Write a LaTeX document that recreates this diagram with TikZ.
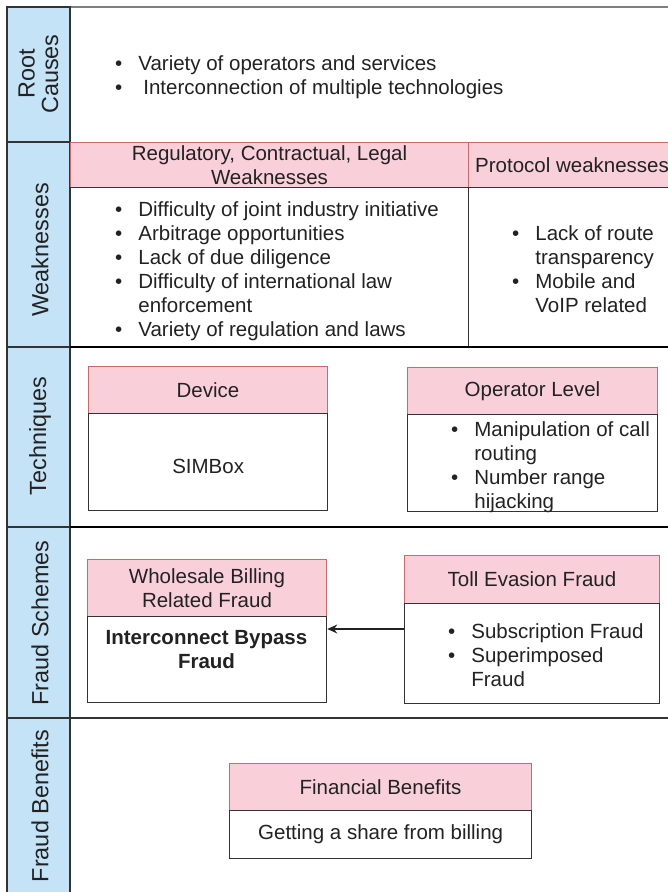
\documentclass[tikz,border=0pt]{standalone}
\usepackage{fontspec}
\setmainfont{Liberation Sans}
\usetikzlibrary{arrows.meta}

\definecolor{laneblue}{HTML}{C5E3F6}
\definecolor{headpink}{HTML}{F9D0DA}
\definecolor{headrim}{HTML}{C96A6A}
\definecolor{ink}{HTML}{222222}
\definecolor{rim}{HTML}{333333}
\definecolor{topline}{HTML}{7F7F7F}

\newcommand{\bodyfont}{\fontsize{20.5}{24}\selectfont}
\newcommand{\lanefont}{\fontsize{23.4}{23.5}\selectfont}
\newcommand{\bul}{\textbullet}
\newenvironment{bullets}{\begin{tabular}[t]{@{}l@{\hspace{16pt}}l@{}}}{\end{tabular}}

\begin{document}
\begin{tikzpicture}[x=1pt,y=-1pt,
  lane/.style={draw=rim, fill=laneblue, line width=1.2pt},
  head/.style={draw=headrim, fill=headpink, line width=1pt, inner sep=0pt,
    anchor=north west, font=\bodyfont, text=ink, align=center},
  body/.style={draw=rim, fill=white, line width=1.3pt, inner sep=0pt,
    anchor=north west, font=\bodyfont, text=ink, align=center},
  lbl/.style={font=\lanefont, text=ink, inner sep=0pt, align=center, rotate=90},
  lst/.style={font=\bodyfont, text=ink, inner sep=0pt, anchor=base west},
  heavy/.style={draw=black, line width=2.4pt},
  light/.style={draw=rim, line width=1.5pt},
]
\useasboundingbox (0,0) rectangle (668,892);
\clip (0,0) rectangle (668,892);
\fill[white] (0,0) rectangle (668,892);

% outer top edge
\draw[topline, line width=2pt] (7,7) -- (690,7);

% swimlane headers
\draw[lane] (7,7) rectangle (70,142);
\draw[lane] (7,142) rectangle (70,347);
\draw[lane] (7,347) rectangle (70,527);
\draw[lane] (7,527) rectangle (70,718);
\draw[lane] (7,718) rectangle (70,905);

\node[lbl] (lroot) at (38.5,74) {Root\\Causes};
\node[lbl] (lweak) at (40,250) {Weaknesses};
\node[lbl] (ltech) at (40,436) {Techniques};
\node[lbl] (lscheme) at (40,623) {Fraud Schemes};
\node[lbl] (lbenefit) at (40,806) {Fraud Benefits};

% root causes
\node[lst] (rootl) at (115,70) {\begin{bullets}
  \bul & Variety of operators and services\\
  \bul & \hspace{5pt}Interconnection of multiple technologies
\end{bullets}};

% weaknesses
\node[head, minimum width=398pt, minimum height=45pt] (regh) at (70,142)
  {Regulatory, Contractual, Legal\\Weaknesses};
\node[head, minimum width=240pt, minimum height=45pt] (proth) at (468,142) {};
\node[lst] (protht) at (475,172) {Protocol weaknesses};
\node[body, minimum width=398pt, minimum height=160pt] (regb) at (70,187) {};
\node[body, minimum width=240pt, minimum height=160pt] (protb) at (468,187) {};
\node[lst] (regl) at (115,216) {\begin{bullets}
  \bul & Difficulty of joint industry initiative\\
  \bul & Arbitrage opportunities\\
  \bul & Lack of due diligence\\
  \bul & Difficulty of international law\\
       & enforcement\\
  \bul & Variety of regulation and laws
\end{bullets}};
\node[lst] (protl) at (512,240) {\begin{bullets}
  \bul & Lack of route\\
       & transparency\\
  \bul & Mobile and\\
       & VoIP related
\end{bullets}};

% techniques
\node[head, minimum width=239pt, minimum height=47pt] (devh) at (88,366) {Device};
\node[body, minimum width=239pt, minimum height=97pt] (devb) at (88,413)
  {\rule{0pt}{0pt}\\[-2pt]SIMBox};
\node[head, minimum width=250pt, minimum height=47pt] (oph) at (407,367) {Operator Level};
\node[body, minimum width=250pt, minimum height=97pt] (opb) at (407,414) {};
\node[lst] (opl) at (451,436) {\begin{bullets}
  \bul & Manipulation of call\\
       & routing\\
  \bul & Number range\\
       & hijacking
\end{bullets}};

% fraud schemes
\node[head, minimum width=239pt, minimum height=57pt] (wsh) at (87,559)
  {Wholesale Billing\\Related Fraud};
\node[body, minimum width=239pt, minimum height=86pt] (wsb) at (87,616) {};
\node[font=\bodyfont\bfseries, text=ink, inner sep=0pt, align=center] (wsbt)
  at (206.5,650) {Interconnect Bypass\\Fraud};
\node[head, minimum width=255pt, minimum height=48pt] (tollh) at (404,555) {Toll Evasion Fraud};
\node[body, minimum width=255pt, minimum height=100pt] (tollb) at (404,603) {};
\node[lst] (tolll) at (448,638) {\begin{bullets}
  \bul & Subscription Fraud\\
  \bul & Superimposed\\
       & Fraud
\end{bullets}};
\coordinate (arry) at (0,629);
\draw[ink, line width=1.3pt, -{Stealth[length=10pt,width=9pt]}]
  (tollb.west |- arry) -- (wsb.east |- arry);

% fraud benefits
\node[head, minimum width=302pt, minimum height=47pt] (finh) at (229,763) {Financial Benefits};
\node[body, minimum width=302pt, minimum height=48pt] (finb) at (229,810)
  {Getting a share from billing};

% row separators
\draw[heavy] (70,347) -- (690,347);
\draw[heavy] (70,527) -- (690,527);
\draw[light] (70,718) -- (690,718);
\end{tikzpicture}
\end{document}
